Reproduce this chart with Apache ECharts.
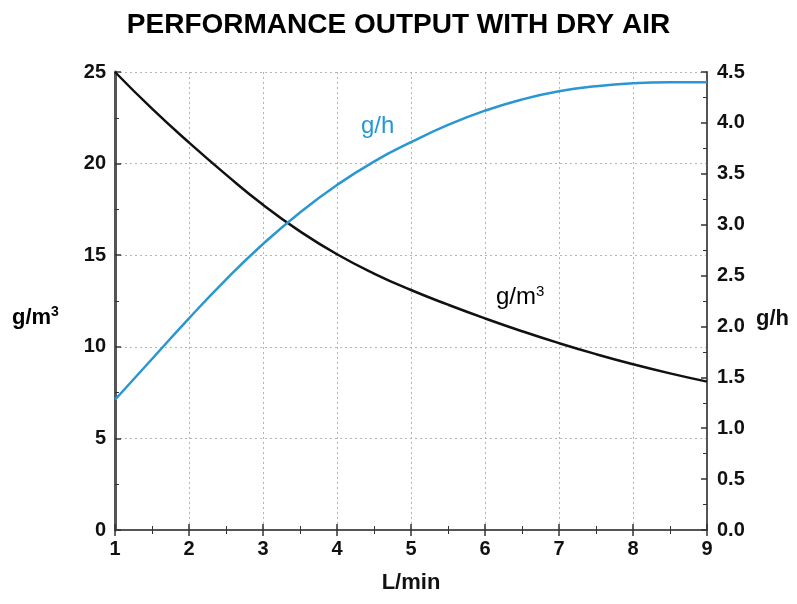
<!DOCTYPE html>
<html>
<head>
<meta charset="utf-8">
<script src="https://cdn.jsdelivr.net/npm/echarts@6/dist/echarts.min.js"></script>
<style>html,body{margin:0;padding:0;background:#fff}#c{width:797px;height:604px}</style>
</head>
<body>
<div id="c"></div>
<script>
const flowLpm = [1, 1.5, 2, 2.5, 3, 3.5, 4, 4.5, 5, 5.5, 6, 6.5, 7, 7.5, 8, 8.5, 9];
const concGm3 = [25, 23.0, 21.15, 19.4, 17.75, 16.3, 15.05, 14.0, 13.1, 12.3, 11.55, 10.85, 10.2, 9.6, 9.05, 8.55, 8.1];
const outputGh = [1.28, 1.68, 2.08, 2.46, 2.81, 3.12, 3.39, 3.62, 3.81, 3.98, 4.12, 4.23, 4.31, 4.36, 4.39, 4.40, 4.40];
const xTicks = [1, 2, 3, 4, 5, 6, 7, 8, 9];
const leftTicks = [0, 5, 10, 15, 20, 25];
const rightTicks = [0, 0.5, 1, 1.5, 2, 2.5, 3, 3.5, 4, 4.5];

const chart = echarts.init(document.getElementById('c'));
const FONT = 'Liberation Sans, Arial, sans-serif';
const lbl = {color: '#111', fontWeight: 'bold', fontSize: 20, fontFamily: FONT};
const axisLine = {show: true, lineStyle: {color: '#555', width: 2}};
const tick = {show: true, inside: true, length: 6, lineStyle: {color: '#333', width: 1.5}};
const minor = {show: true, splitNumber: 2, length: 4, lineStyle: {color: '#333', width: 1}};
const grid = {show: true, lineStyle: {color: '#b5b5b5', type: [2, 3], width: 1}};

chart.setOption({
  animation: false,
  title: {
    text: 'PERFORMANCE OUTPUT WITH DRY AIR', left: 'center', top: 6,
    textStyle: {fontFamily: FONT, fontWeight: 'bold', fontSize: 28, color: '#000'}
  },
  grid: {left: 115, right: 90, top: 72, bottom: 74},
  xAxis: [{
    type: 'value', min: xTicks[0], max: xTicks[xTicks.length - 1], interval: 1,
    axisLine: axisLine, axisTick: tick, minorTick: minor, splitLine: grid,
    axisLabel: Object.assign({margin: 9}, lbl),
    name: 'L/min', nameLocation: 'middle', nameGap: 42,
    nameTextStyle: {color: '#111', fontSize: 22, fontWeight: 'bold', fontFamily: FONT}
  }, {
    type: 'value', position: 'top', min: xTicks[0], max: xTicks[xTicks.length - 1], interval: 1,
    axisLine: {show: true, lineStyle: {color: '#555', width: 1.5}}, axisTick: tick, minorTick: minor,
    axisLabel: {show: false}, splitLine: {show: false}
  }],
  yAxis: [{
    type: 'value', min: leftTicks[0], max: leftTicks[leftTicks.length - 1], interval: 5,
    axisLine: {show: true, lineStyle: {color: '#555', width: 3}}, axisTick: tick, minorTick: minor, splitLine: grid,
    axisLabel: Object.assign({margin: 9}, lbl)
  }, {
    type: 'value', position: 'right', min: rightTicks[0], max: rightTicks[rightTicks.length - 1], interval: 0.5,
    axisLine: axisLine, axisTick: tick, minorTick: minor, splitLine: {show: false},
    axisLabel: Object.assign({margin: 10, formatter: v => v.toFixed(1)}, lbl)
  }],
  series: [{
    type: 'line', name: 'g/m3', yAxisIndex: 0, smooth: true, symbol: 'none',
    data: flowLpm.map((x, i) => [x, concGm3[i]]),
    lineStyle: {color: '#111', width: 2.5}, z: 3
  }, {
    type: 'line', name: 'g/h', yAxisIndex: 1, smooth: true, symbol: 'none',
    data: flowLpm.map((x, i) => [x, outputGh[i]]),
    lineStyle: {color: '#2a97d2', width: 2.5}, z: 4
  }],
  graphic: [
    {type: 'text', left: 12, top: 305, style: {
      text: '{a|g/m}{s|3}', rich: {
        a: {fontFamily: FONT, fontSize: 22, color: '#111', fontWeight: 'bold', verticalAlign: 'bottom'},
        s: {fontFamily: FONT, fontSize: 14, color: '#111', fontWeight: 'bold', verticalAlign: 'top', padding: [0, 0, 10, 0]}
      }}},
    {type: 'text', left: 756, top: 308, style: {text: 'g/h', fontFamily: FONT, fontSize: 22, fontWeight: 'bold', fill: '#111'}},
    {type: 'text', left: 361, top: 114, style: {text: 'g/h', fontFamily: FONT, fontSize: 24, fill: '#2a97d2'}},
    {type: 'text', left: 496, top: 284, style: {
      text: '{a|g/m}{s|3}', rich: {
        a: {fontFamily: FONT, fontSize: 24, color: '#111', verticalAlign: 'bottom'},
        s: {fontFamily: FONT, fontSize: 15, color: '#111', verticalAlign: 'top', padding: [0, 0, 10, 0]}
      }}}
  ]
});
</script>
</body>
</html>
